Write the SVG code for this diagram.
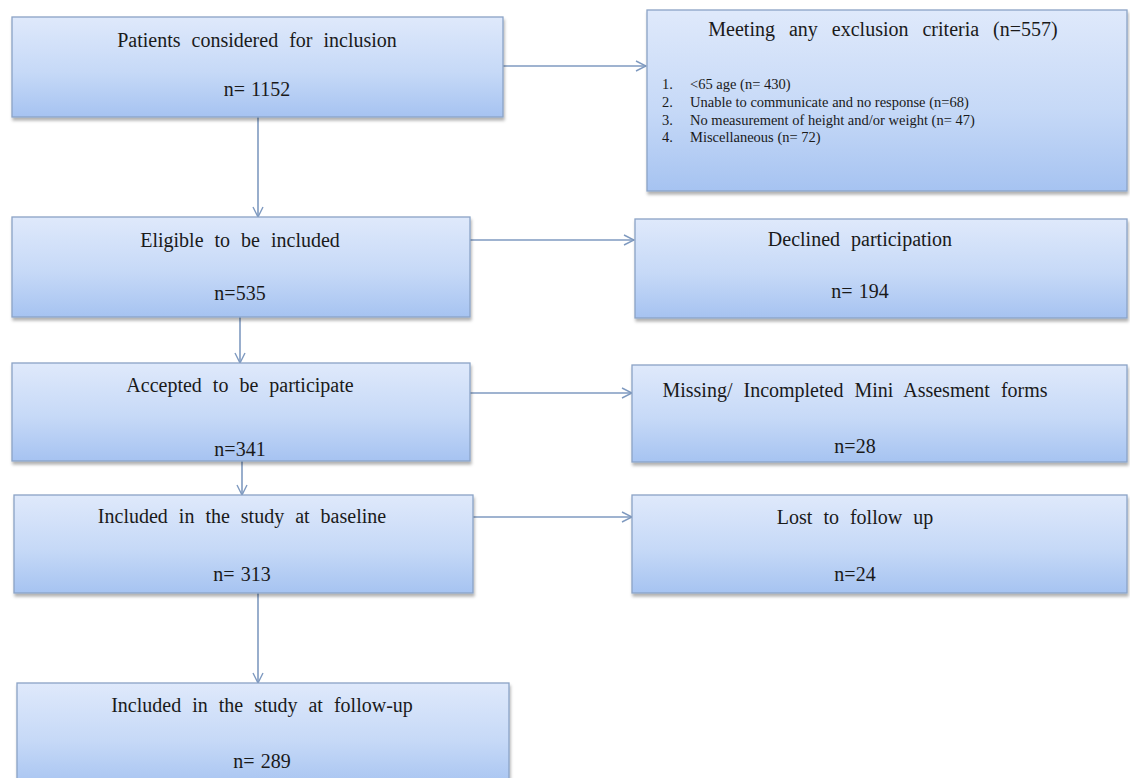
<svg xmlns="http://www.w3.org/2000/svg" width="1130" height="778" viewBox="0 0 1130 778">
<defs>
<linearGradient id="g" x1="0" y1="0" x2="0" y2="1">
<stop offset="0" stop-color="#dfe9fb"/>
<stop offset="0.55" stop-color="#c6d9f7"/>
<stop offset="1" stop-color="#a6c3f1"/>
</linearGradient>
<filter id="sh" x="-5%" y="-10%" width="110%" height="130%">
<feDropShadow dx="1" dy="3" stdDeviation="1.5" flood-color="#000" flood-opacity="0.3"/>
</filter>
<marker id="ah" viewBox="0 0 12 12" refX="11" refY="6" markerWidth="12" markerHeight="12" markerUnits="userSpaceOnUse" orient="auto">
<path d="M1,1 L11,6 L1,11" fill="none" stroke="#7f9ac0" stroke-width="1.4"/>
</marker>
<style>
.box{fill:url(#g);stroke:#8ba3c6;stroke-width:1.3;filter:url(#sh)}
.t{font-family:"Liberation Serif","Times New Roman",serif;font-size:20px;fill:#1a1a1a;text-anchor:middle;word-spacing:6px}
.n{font-family:"Liberation Serif","Times New Roman",serif;font-size:20px;fill:#1a1a1a;text-anchor:middle;word-spacing:1px}
.s{font-family:"Liberation Serif","Times New Roman",serif;font-size:14.5px;fill:#1a1a1a}
.c{fill:none;stroke:#7f9ac0;stroke-width:1.6;marker-end:url(#ah)}
</style>
</defs>
<rect width="1130" height="778" fill="#fff"/>
<g id="connectors">
<line class="c" x1="258" y1="117" x2="258" y2="217"/>
<line class="c" x1="503" y1="66" x2="646" y2="66"/>
<line class="c" x1="240" y1="317" x2="240" y2="363"/>
<line class="c" x1="470" y1="240" x2="634" y2="240"/>
<line class="c" x1="242" y1="461" x2="242" y2="495"/>
<line class="c" x1="470" y1="393" x2="632" y2="393"/>
<line class="c" x1="258" y1="593" x2="258" y2="683"/>
<line class="c" x1="473" y1="517" x2="632" y2="517"/>
</g>
<g id="n1"><rect class="box" x="12" y="17" width="491" height="100"/>
<text class="t" x="257" y="47">Patients considered for inclusion</text>
<text class="n" x="257" y="96">n= 1152</text></g>
<g id="n2"><rect class="box" x="12" y="217" width="458" height="100"/>
<text class="t" x="240" y="247">Eligible  to be included</text>
<text class="n" x="240" y="300">n=535</text></g>
<g id="n3"><rect class="box" x="12" y="363" width="458" height="98"/>
<text class="t" x="240" y="392">Accepted to be participate</text>
<text class="n" x="240" y="456">n=341</text></g>
<g id="n4"><rect class="box" x="14" y="495" width="459" height="98"/>
<text class="t" x="242" y="523">Included in the study at baseline</text>
<text class="n" x="242" y="581">n= 313</text></g>
<g id="n5"><rect class="box" x="17" y="683" width="492" height="105"/>
<text class="t" x="262" y="712">Included in the study at follow-up</text>
<text class="n" x="262" y="768">n= 289</text></g>
<g id="e1"><rect class="box" x="647" y="10" width="480" height="181"/>
<text class="t" x="883" y="36" style="word-spacing:9px">Meeting any exclusion criteria (n=557)</text>
<text class="s" x="662" y="89">1.</text><text class="s" x="690" y="89">&lt;65 age (n= 430)</text>
<text class="s" x="662" y="107">2.</text><text class="s" x="690" y="107">Unable to communicate and no response (n=68)</text>
<text class="s" x="662" y="125">3.</text><text class="s" x="690" y="125">No measurement of height and/or weight (n= 47)</text>
<text class="s" x="662" y="142">4.</text><text class="s" x="690" y="142">Miscellaneous (n= 72)</text></g>
<g id="e2"><rect class="box" x="635" y="219" width="492" height="99"/>
<text class="t" x="860" y="246">Declined participation</text>
<text class="n" x="860" y="298">n= 194</text></g>
<g id="e3"><rect class="box" x="632" y="365" width="495" height="97"/>
<text class="t" x="855" y="397">Missing/ Incompleted Mini Assesment forms</text>
<text class="n" x="855" y="453">n=28</text></g>
<g id="e4"><rect class="box" x="632" y="495" width="495" height="98"/>
<text class="t" x="855" y="524">Lost to follow up</text>
<text class="n" x="855" y="581">n=24</text></g>
</svg>
